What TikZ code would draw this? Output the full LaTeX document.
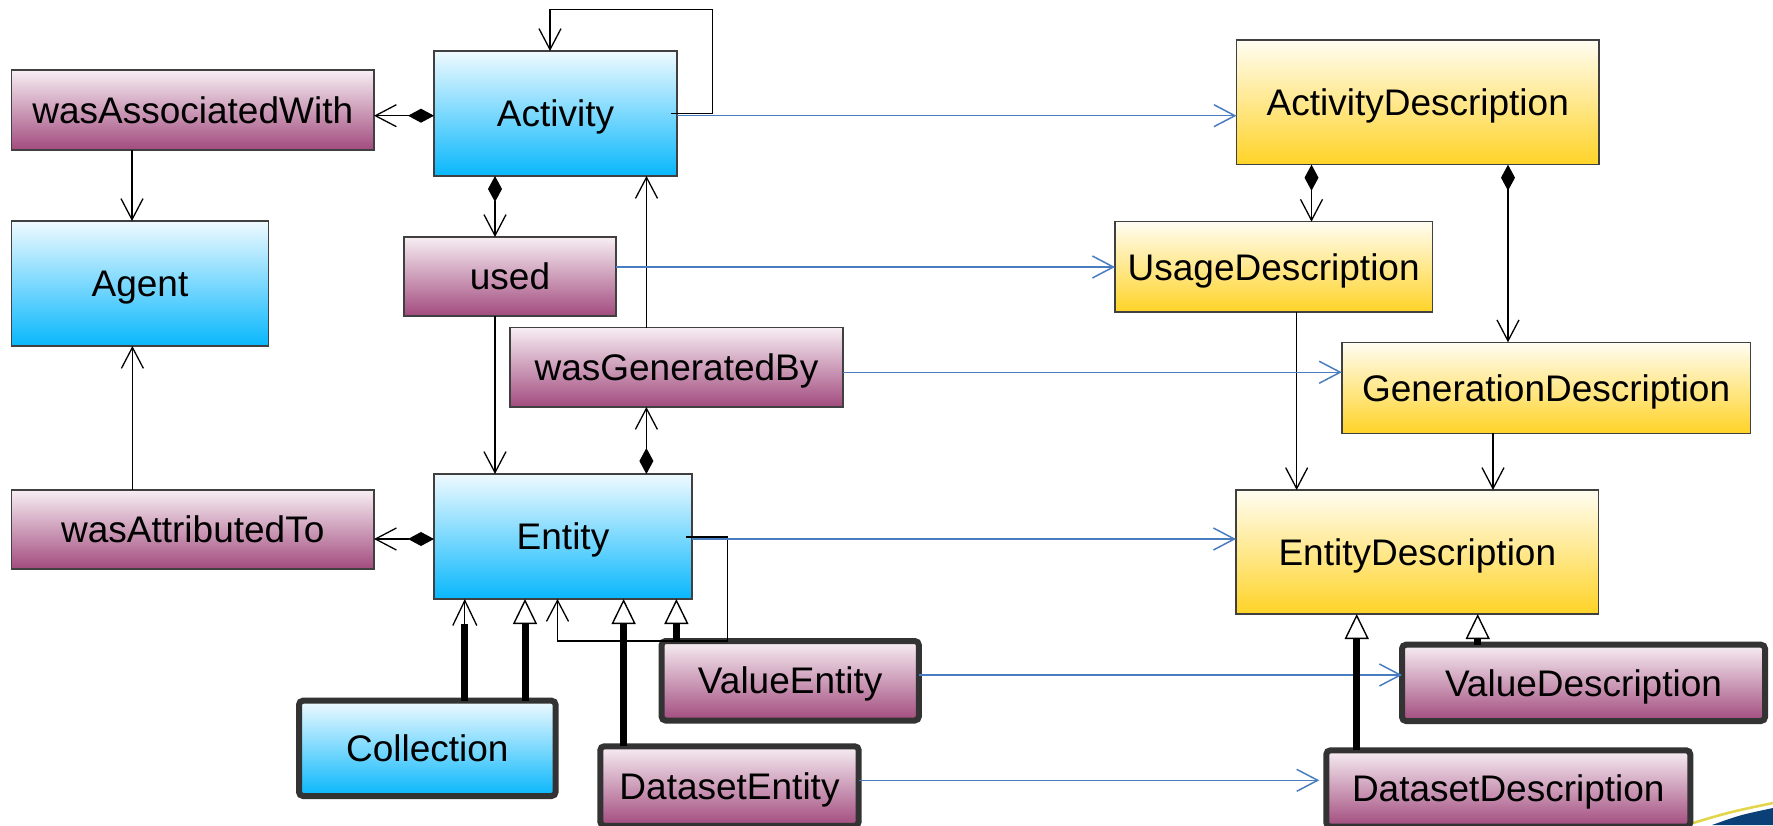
\documentclass[tikz,border=0pt]{standalone}
\usepackage{fontspec}
\setmainfont{Liberation Sans}
\usetikzlibrary{arrows.meta,calc}
\definecolor{bluetop}{HTML}{EFFAFF}
\definecolor{bluebot}{HTML}{08B7FC}
\definecolor{pinktop}{HTML}{F7EEF3}
\definecolor{pinkbot}{HTML}{A24B7E}
\definecolor{yeltop}{HTML}{FFFDF2}
\definecolor{yelbot}{HTML}{FFD327}
\definecolor{boxline}{HTML}{404040}
\definecolor{thickline}{HTML}{333333}
\definecolor{bluel}{HTML}{4A7DBF}
\definecolor{decoblue}{HTML}{0B3F78}
\definecolor{decoyellow}{HTML}{E3D64A}
\tikzset{
  every node/.style={inner sep=0pt, outer sep=0pt, text height=13.2pt, text depth=0pt, font=\fontsize{18.5}{22}\selectfont},
  boxbase/.style={draw=boxline, line width=0.7pt},
  bluebox/.style={boxbase, top color=bluetop, bottom color=bluebot},
  pinkbox/.style={boxbase, top color=pinktop, bottom color=pinkbot},
  yellowbox/.style={boxbase, top color=yeltop, bottom color=yelbot},
  heavy/.style={draw=thickline, line width=3pt, rounded corners=2pt},
  conn/.style={draw=black, line width=0.65pt},
  bconn/.style={draw=bluel, line width=0.75pt},
  va/.style={-{Straight Barb[length=10.5pt,width=11pt]}},
  dva/.style={{Diamond[length=13pt,width=7pt]}-{Straight Barb[length=10.5pt,width=11pt]}},
  gen/.style={line width=3.5pt, -{Triangle[open,length=12.5pt,width=12pt,line width=0.7pt,fill=white]}},
  shaft/.style={line width=3.5pt},
}
\begin{document}
\begin{tikzpicture}[x=0.5pt,y=-0.5pt]
\useasboundingbox (0,0) rectangle (1773,825);
% decoration bottom right
\fill[decoblue] (1712,825) .. controls (1740,815) .. (1773,808) -- (1773,825) -- cycle;
\draw[decoyellow, line width=1.3pt] (1693,823) .. controls (1730,812) .. (1773,803);

% nodes
\node[pinkbox, minimum width=181.25pt, minimum height=40pt] (wasAssociatedWith) at (192.75,110) {wasAssociatedWith};
\node[bluebox, minimum width=121.5pt, minimum height=62.5pt] (Activity) at (555.5,113.5) {Activity};
\node[bluebox, minimum width=128.5pt, minimum height=62.5pt] (Agent) at (140,283.5) {Agent};
\node[pinkbox, minimum width=106pt, minimum height=39.5pt] (used) at (510,276.5) {used};
\node[pinkbox, minimum width=166.5pt, minimum height=39.75pt] (wasGeneratedBy) at (676.5,367.25) {wasGeneratedBy};
\node[pinkbox, minimum width=181.25pt, minimum height=39.5pt] (wasAttributedTo) at (192.75,529.5) {wasAttributedTo};
\node[bluebox, minimum width=129pt, minimum height=62.5pt] (Entity) at (563,536.5) {Entity};
\node[bluebox, heavy, minimum width=128.3pt, minimum height=47.65pt] (Collection) at (427.3,748.35) {Collection};
\node[pinkbox, heavy, minimum width=128.6pt, minimum height=39.75pt] (ValueEntity) at (790.2,680.75) {ValueEntity};
\node[pinkbox, heavy, minimum width=129.2pt, minimum height=39.75pt] (DatasetEntity) at (729.5,786) {DatasetEntity};
\node[yellowbox, minimum width=181.25pt, minimum height=62.35pt] (ActivityDescription) at (1417.75,102.35) {ActivityDescription};
\node[yellowbox, minimum width=158.65pt, minimum height=45.15pt] (UsageDescription) at (1273.65,266.85) {UsageDescription};
\node[yellowbox, minimum width=204.3pt, minimum height=45.5pt] (GenerationDescription) at (1546.1,387.8) {GenerationDescription};
\node[yellowbox, minimum width=181.35pt, minimum height=62pt] (EntityDescription) at (1417.35,552) {EntityDescription};
\node[pinkbox, heavy, minimum width=181.5pt, minimum height=38.15pt] (ValueDescription) at (1583.5,682.85) {ValueDescription};
\node[pinkbox, heavy, minimum width=182pt, minimum height=38.15pt] (DatasetDescription) at (1508.3,788.5) {DatasetDescription};

% black connectors
\draw[conn,dva] ($(Activity.west)+(0,2.2)$) -- ($(wasAssociatedWith.east |- Activity.west)+(0,2.2)$);
\draw[conn,va] ($(wasAssociatedWith.south)+(-60.75,0)$) -- ($(wasAssociatedWith.south |- Agent.north)+(-60.75,0)$);
\draw[conn,dva] ($(Activity.south)+(-60.5,0)$) -- ($(Activity.south |- used.north)+(-60.5,0)$);
\draw[conn,va] ($(used.south)+(-15,0)$) -- ($(used.south |- Entity.north)+(-15,0)$);
\draw[conn,va] ($(wasGeneratedBy.north)+(-30,0)$) -- ($(wasGeneratedBy.north |- Activity.south)+(-30,0)$);
\draw[conn,dva] ($(Entity.north)+(83.4,0)$) -- ($(Entity.north |- wasGeneratedBy.south)+(83.4,0)$);
\draw[conn,dva] ($(Entity.west)+(0,2.5)$) -- ($(wasAttributedTo.east |- Entity.west)+(0,2.5)$);
\draw[conn,va] ($(wasAttributedTo.north)+(-60.35,0)$) -- ($(wasAttributedTo.north |- Agent.south)+(-60.35,0)$);
\draw[conn,va] ($(Activity.east)+(-6,0.2)$) -| ($(Activity.north)+(157.2,-41.3)$) -| ($(Activity.north)+(-5.5,0)$);
\draw[conn,va] ($(Entity.east)+(-6,0.5)$) -| ($(Entity.south)+(164.5,42)$) -| ($(Entity.south)+(-5.5,0)$);
\draw[conn,va] ($(UsageDescription.south)+(23,0)$) -- ($(UsageDescription.south |- EntityDescription.north)+(23,0)$);
\draw[conn,va] ($(GenerationDescription.south)+(-53.1,0)$) -- ($(GenerationDescription.south |- EntityDescription.north)+(-53.1,0)$);
\draw[conn,dva] ($(ActivityDescription.south)+(-106.25,0)$) -- ($(ActivityDescription.south |- UsageDescription.north)+(-106.25,0)$);
\draw[conn,dva] ($(ActivityDescription.south)+(90.25,0)$) -- ($(ActivityDescription.south |- GenerationDescription.north)+(90.25,0)$);

% blue connectors
\draw[bconn,va] ($(Activity.east)+(0,2.2)$) -- ($(ActivityDescription.west |- Activity.east)+(0,2.2)$);
\draw[bconn,va] ($(used.east)+(0,-9.5)$) -- ($(UsageDescription.west |- used.east)+(0,-9.5)$);
\draw[bconn,va] ($(wasGeneratedBy.east)+(0,5)$) -- ($(GenerationDescription.west |- wasGeneratedBy.east)+(0,5)$);
\draw[bconn,va] ($(Entity.east)+(0,2.5)$) -- ($(EntityDescription.west |- Entity.east)+(0,2.5)$);
\draw[bconn,va] ($(ValueEntity.east)+(0,-5.75)$) -- ($(ValueDescription.west |- ValueEntity.east)+(0,-5.75)$);
\draw[bconn,va,shorten >=3.5pt] ($(DatasetEntity.east)+(0,-5.7)$) -- ($(DatasetDescription.west |- DatasetEntity.east)+(0,-5.7)$);

% generalisations
\coordinate (g1) at ($(Collection.north |- Entity.south)+(37.5,25)$);
\draw[shaft] ($(Collection.north)+(37.5,0)$) -- (g1);
\draw[conn,-{Straight Barb[length=12.5pt,width=12pt]}] (g1) -- ($(Collection.north |- Entity.south)+(37.5,0)$);
\draw[gen] ($(Collection.north)+(97.7,0)$) -- ($(Collection.north |- Entity.south)+(97.7,0)$);
\draw[gen] ($(DatasetEntity.north)+(-105.9,0)$) -- ($(DatasetEntity.north |- Entity.south)+(-105.9,0)$);
\draw[gen] ($(ValueEntity.north)+(-113.8,0)$) -- ($(ValueEntity.north |- Entity.south)+(-113.8,0)$);
\draw[gen] ($(DatasetDescription.north)+(-151.6,0)$) -- ($(DatasetDescription.north |- EntityDescription.south)+(-151.6,0)$);
\draw[gen] ($(ValueDescription.north)+(-105.8,0)$) -- ($(ValueDescription.north |- EntityDescription.south)+(-105.8,0)$);
\end{tikzpicture}
\end{document}
